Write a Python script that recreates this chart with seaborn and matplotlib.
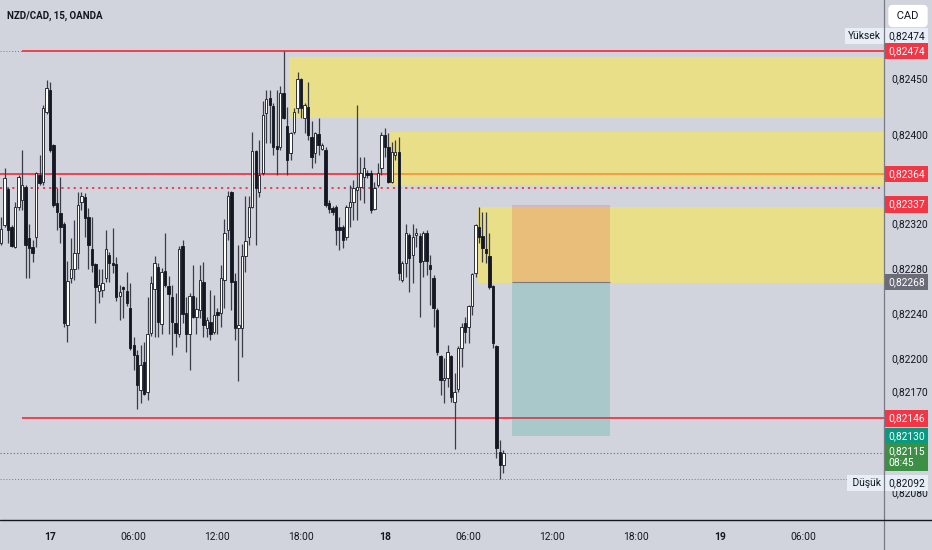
import numpy as np
import pandas as pd
import seaborn as sns
import matplotlib.pyplot as plt
from matplotlib.lines import Line2D
from matplotlib.patches import Rectangle

# NZD/CAD 15 min candles (16th 20:30 -> 18th 08:30)
opens = [
    0.82303, 0.82319, 0.82351, 0.82317, 0.82299, 0.82335, 0.82341, 0.82353, 0.82307, 0.82299,
    0.82308, 0.82363, 0.82357, 0.82420, 0.82439, 0.82390, 0.82338, 0.82329, 0.82320, 0.82229,
    0.82271, 0.82279, 0.82294, 0.82339, 0.82344, 0.82326, 0.82297, 0.82284, 0.82260, 0.82261,
    0.82271, 0.82292, 0.82285, 0.82284, 0.82255, 0.82263, 0.82260, 0.82245, 0.82212, 0.82203,
    0.82171, 0.82196, 0.82170, 0.82222, 0.82262, 0.82281, 0.82230, 0.82278, 0.82264, 0.82254,
    0.82231, 0.82221, 0.82300, 0.82240, 0.82221, 0.82255, 0.82237, 0.82243, 0.82268, 0.82227,
    0.82232, 0.82223, 0.82241, 0.82240, 0.82270, 0.82314, 0.82348, 0.82269, 0.82227, 0.82227,
    0.82291, 0.82308, 0.82335, 0.82385, 0.82348, 0.82365, 0.82419, 0.82432, 0.82425, 0.82389,
    0.82388, 0.82437, 0.82407, 0.82383, 0.82402, 0.82423, 0.82449, 0.82414, 0.82424, 0.82397,
    0.82383, 0.82400, 0.82387, 0.82386, 0.82338, 0.82334, 0.82335, 0.82317, 0.82317, 0.82308,
    0.82335, 0.82339, 0.82350, 0.82353, 0.82362, 0.82365, 0.82365, 0.82333, 0.82354, 0.82370,
    0.82399, 0.82388, 0.82357, 0.82381, 0.82384, 0.82270, 0.82285, 0.82310, 0.82292, 0.82310,
    0.82309, 0.82287, 0.82312, 0.82283, 0.82271, 0.82243, 0.82202, 0.82180, 0.82182, 0.82202,
    0.82161, 0.82172, 0.82209, 0.82231, 0.82228, 0.82246, 0.82276, 0.82317, 0.82309, 0.82297,
    0.82291, 0.82264, 0.82211, 0.82116, 0.82104,
]
highs = [
    0.82326, 0.82370, 0.82353, 0.82319, 0.82339, 0.82363, 0.82386, 0.82354, 0.82320, 0.82305,
    0.82366, 0.82381, 0.82426, 0.82448, 0.82446, 0.82391, 0.82352, 0.82362, 0.82321, 0.82287,
    0.82307, 0.82323, 0.82348, 0.82348, 0.82347, 0.82334, 0.82326, 0.82285, 0.82279, 0.82279,
    0.82314, 0.82295, 0.82316, 0.82290, 0.82265, 0.82264, 0.82277, 0.82267, 0.82219, 0.82207,
    0.82212, 0.82214, 0.82254, 0.82273, 0.82291, 0.82285, 0.82280, 0.82312, 0.82273, 0.82265,
    0.82258, 0.82300, 0.82305, 0.82254, 0.82258, 0.82283, 0.82254, 0.82283, 0.82286, 0.82237,
    0.82261, 0.82256, 0.82245, 0.82283, 0.82324, 0.82349, 0.82349, 0.82276, 0.82301, 0.82302,
    0.82345, 0.82345, 0.82402, 0.82386, 0.82395, 0.82429, 0.82439, 0.82439, 0.82428, 0.82439,
    0.82443, 0.82474, 0.82424, 0.82402, 0.82423, 0.82455, 0.82450, 0.82428, 0.82446, 0.82412,
    0.82402, 0.82414, 0.82392, 0.82388, 0.82341, 0.82336, 0.82337, 0.82326, 0.82319, 0.82337,
    0.82354, 0.82359, 0.82426, 0.82379, 0.82379, 0.82368, 0.82368, 0.82357, 0.82374, 0.82402,
    0.82405, 0.82401, 0.82393, 0.82395, 0.82397, 0.82287, 0.82320, 0.82312, 0.82320, 0.82316,
    0.82312, 0.82313, 0.82314, 0.82292, 0.82274, 0.82245, 0.82203, 0.82200, 0.82212, 0.82203,
    0.82187, 0.82211, 0.82231, 0.82237, 0.82247, 0.82276, 0.82320, 0.82335, 0.82330, 0.82330,
    0.82312, 0.82265, 0.82212, 0.82127, 0.82118,
]
lows = [
    0.82301, 0.82317, 0.82303, 0.82299, 0.82298, 0.82332, 0.82332, 0.82271, 0.82271, 0.82286,
    0.82299, 0.82354, 0.82354, 0.82418, 0.82384, 0.82335, 0.82314, 0.82303, 0.82228, 0.82214,
    0.82267, 0.82270, 0.82279, 0.82332, 0.82308, 0.82279, 0.82277, 0.82231, 0.82249, 0.82254,
    0.82268, 0.82268, 0.82276, 0.82251, 0.82234, 0.82236, 0.82246, 0.82207, 0.82189, 0.82154,
    0.82160, 0.82167, 0.82162, 0.82220, 0.82219, 0.82219, 0.82221, 0.82263, 0.82221, 0.82203,
    0.82210, 0.82219, 0.82231, 0.82205, 0.82189, 0.82236, 0.82221, 0.82236, 0.82219, 0.82219,
    0.82216, 0.82221, 0.82221, 0.82228, 0.82245, 0.82305, 0.82243, 0.82216, 0.82179, 0.82201,
    0.82277, 0.82301, 0.82334, 0.82301, 0.82344, 0.82363, 0.82392, 0.82392, 0.82381, 0.82363,
    0.82386, 0.82413, 0.82363, 0.82377, 0.82400, 0.82419, 0.82414, 0.82401, 0.82395, 0.82370,
    0.82374, 0.82381, 0.82386, 0.82335, 0.82329, 0.82328, 0.82301, 0.82296, 0.82298, 0.82305,
    0.82317, 0.82323, 0.82323, 0.82341, 0.82338, 0.82361, 0.82329, 0.82332, 0.82353, 0.82363,
    0.82379, 0.82356, 0.82356, 0.82377, 0.82270, 0.82268, 0.82272, 0.82259, 0.82267, 0.82299,
    0.82237, 0.82272, 0.82274, 0.82247, 0.82228, 0.82203, 0.82167, 0.82160, 0.82174, 0.82161,
    0.82119, 0.82170, 0.82192, 0.82213, 0.82213, 0.82238, 0.82272, 0.82303, 0.82286, 0.82285,
    0.82262, 0.82209, 0.82111, 0.82092, 0.82097,
]
closes = [
    0.82315, 0.82361, 0.82314, 0.82300, 0.82335, 0.82362, 0.82354, 0.82301, 0.82298, 0.82294,
    0.82365, 0.82356, 0.82423, 0.82441, 0.82386, 0.82337, 0.82330, 0.82317, 0.82231, 0.82269,
    0.82279, 0.82294, 0.82337, 0.82345, 0.82325, 0.82301, 0.82283, 0.82263, 0.82265, 0.82267,
    0.82297, 0.82285, 0.82283, 0.82254, 0.82259, 0.82262, 0.82249, 0.82209, 0.82203, 0.82176,
    0.82194, 0.82168, 0.82221, 0.82267, 0.82285, 0.82232, 0.82277, 0.82265, 0.82257, 0.82232,
    0.82222, 0.82297, 0.82239, 0.82221, 0.82255, 0.82237, 0.82244, 0.82270, 0.82229, 0.82234,
    0.82221, 0.82238, 0.82238, 0.82271, 0.82312, 0.82345, 0.82268, 0.82227, 0.82229, 0.82291,
    0.82304, 0.82335, 0.82385, 0.82352, 0.82363, 0.82417, 0.82431, 0.82426, 0.82388, 0.82387,
    0.82437, 0.82414, 0.82377, 0.82401, 0.82420, 0.82449, 0.82423, 0.82426, 0.82399, 0.82379,
    0.82401, 0.82390, 0.82390, 0.82337, 0.82333, 0.82330, 0.82314, 0.82314, 0.82305, 0.82335,
    0.82339, 0.82352, 0.82353, 0.82365, 0.82370, 0.82363, 0.82332, 0.82352, 0.82365, 0.82399,
    0.82388, 0.82357, 0.82384, 0.82384, 0.82276, 0.82285, 0.82312, 0.82289, 0.82308, 0.82312,
    0.82286, 0.82312, 0.82287, 0.82279, 0.82245, 0.82205, 0.82180, 0.82182, 0.82205, 0.82165,
    0.82170, 0.82209, 0.82228, 0.82223, 0.82246, 0.82275, 0.82319, 0.82308, 0.82298, 0.82294,
    0.82263, 0.82213, 0.82120, 0.82104, 0.82115,
]

first_bar = "2023-05-16 20:30"
day_zero = pd.Timestamp("2023-05-17 00:00")

# drawn levels
red_levels = [0.82474, 0.82364, 0.82146]
red_level_from = [-2.0, None, -2.0]     # hours after the 17th 00:00
dotted_red_level = 0.82352
high_price, low_price, last_price = 0.82474, 0.82092, 0.82115

# supply zones: (start hour, top, bottom), all run to the right edge
zone_start = [17.1, 24.3, 30.7]
zone_top = [0.82469, 0.82402, 0.82335]
zone_bottom = [0.82414, 0.82354, 0.82267]

# short position tool
pos_from, pos_to = 33.1, 40.15
pos_stop, pos_entry, pos_target = 0.82337, 0.82268, 0.82130

# price scale
tick_prices = [0.82450, 0.82400, 0.82320, 0.82280, 0.82240, 0.82200, 0.82170, 0.82080]
time_ticks = [0, 6, 12, 18, 24, 30, 36, 42, 48, 54]
time_labels = ["17", "06:00", "12:00", "18:00", "18", "06:00", "12:00", "18:00", "19", "06:00"]
countdown = "08:45"

BG = "#D1D4DC"
RED = "#F23645"
INK = "#131722"
FS = 7.4

sns.set_style("white")
plt.rcParams["font.family"] = ["Roboto", "DejaVu Sans"]

df = pd.DataFrame({"open": opens, "high": highs, "low": lows, "close": closes})
df["time"] = pd.date_range(first_bar, periods=len(df), freq="15min")
df["t"] = (df["time"] - day_zero) / pd.Timedelta(hours=1)
df["high"] = df[["open", "high", "close"]].max(axis=1)
df["low"] = df[["open", "low", "close"]].min(axis=1)

W, H = 932, 550
fig = plt.figure(figsize=(W / 100, H / 100), dpi=100, facecolor=BG)
ax = fig.add_axes([0, 30 / H, 884 / W, 520 / H])
ax.set_facecolor(BG)
x0, x1 = -3.584, 59.78
ax.set_xlim(x0, x1)
ax.set_ylim(0.820553, 0.825196)

# horizontal levels
ax.axhline(high_price, color="#787B86", lw=0.7, ls=(0, (1, 2)), zorder=1)
ax.axhline(low_price, color="#787B86", lw=0.7, ls=(0, (1, 2)), zorder=1)
ax.axhline(last_price, color="#089981", lw=0.8, ls=(0, (1, 2)), zorder=1)
for p, start in zip(red_levels, red_level_from):
    ax.hlines(p, x0 if start is None else start, x1, color=RED, lw=1.3, zorder=1)
ax.axhline(dotted_red_level, color=RED, lw=1.3, ls=(0, (1.2, 2.2)), zorder=1)

# yellow zones (translucent, over the lines)
for s, top, bot in zip(zone_start, zone_top, zone_bottom):
    ax.add_patch(Rectangle((s, bot), x1 - s, top - bot, fc="#FFEB3B", alpha=0.52,
                           ec="none", zorder=2))

# position tool
ax.add_patch(Rectangle((pos_from, pos_entry), pos_to - pos_from, pos_stop - pos_entry,
                       fc=RED, alpha=0.2, ec="none", zorder=2))
ax.add_patch(Rectangle((pos_from, pos_target), pos_to - pos_from, pos_entry - pos_target,
                       fc="#089981", alpha=0.2, ec="none", zorder=2))
ax.hlines(pos_entry, pos_from, pos_to, color="#787B86", lw=0.8, zorder=2)

# candles
up = df["close"] >= df["open"]
body_lo = df[["open", "close"]].min(axis=1)
body_h = (df["close"] - df["open"]).abs().clip(lower=0.000012)
ax.vlines(df["t"], df["low"], df["high"], color="#3A3D47", lw=0.9, zorder=3)
ax.bar(df["t"][up], body_h[up], bottom=body_lo[up], width=0.17, color="white",
       edgecolor=INK, lw=0.6, zorder=4)
ax.bar(df["t"][~up], body_h[~up], bottom=body_lo[~up], width=0.17, color=INK,
       edgecolor=INK, lw=0.6, zorder=4)

# axes styling
for side in ["top", "left", "right", "bottom"]:
    ax.spines[side].set_visible(False)
ax.set_xticks(time_ticks)
ax.set_xticklabels(time_labels)
for lab in ax.get_xticklabels():
    lab.set_fontsize(FS)
    lab.set_color(INK)
    if ":" not in lab.get_text():
        lab.set_fontweight("bold")
ax.tick_params(axis="x", length=0, pad=9)
ax.yaxis.tick_right()
ax.set_yticks(tick_prices)
ax.set_yticklabels([f"{v:.5f}".replace(".", ",") for v in tick_prices])
ax.tick_params(axis="y", length=0, pad=5, labelsize=FS, labelcolor=INK)

ytr = ax.get_yaxis_transform()


def tag(price, text, face, color="white", dy=0, va="center"):
    ax.annotate(text, xy=(1, price), xycoords=ytr, xytext=(3, dy), textcoords="offset points",
                ha="left", va=va, fontsize=FS, color=color, zorder=6, annotation_clip=False,
                bbox=dict(boxstyle="square,pad=0.3", fc=face, ec="none"))


def side_note(price, text, dy):
    ax.annotate(text, xy=(1, price), xycoords=ytr, xytext=(-2, dy), textcoords="offset points",
                ha="right", va="center", fontsize=FS, color=INK, annotation_clip=False,
                bbox=dict(boxstyle="square,pad=0.3", fc="#E8EEF6", ec="none"), zorder=6)


fmt = lambda v: f"{v:.5f}".replace(".", ",")
tag(high_price, fmt(high_price), "#E8EEF6", color=INK, dy=11)
side_note(high_price, "Yüksek", 11)
tag(red_levels[0], fmt(red_levels[0]), RED)
tag(red_levels[1], fmt(red_levels[1]), RED)
tag(pos_stop, fmt(pos_stop), RED)
tag(pos_entry, fmt(pos_entry), "#6A6D78")
tag(red_levels[2], fmt(red_levels[2]), RED)
tag(pos_target, fmt(pos_target), "#089981")
tag(last_price, fmt(last_price) + "\n" + countdown, "#3D8F45", dy=5, va="top")
tag(low_price, fmt(low_price), "#E8EEF6", color=INK, dy=-3)
side_note(low_price, " Düşük", -3)

# frame lines and header
fig.add_artist(Line2D([884 / W, 884 / W], [0, 1], color="#787B86", lw=0.9))
fig.add_artist(Line2D([0, 1], [30 / H, 30 / H], color=INK, lw=1.0))
fig.text(7 / W, 1 - 16 / H, "NZD/CAD, 15, OANDA", fontsize=7, fontweight="bold",
         color=INK, ha="left", va="center")
fig.text(908 / W, 1 - 16 / H, " CAD ", fontsize=8, color=INK, ha="center", va="center",
         bbox=dict(boxstyle="round,pad=0.55,rounding_size=0.4", fc="white", ec="none"))

fig.savefig("out.png", dpi=100, facecolor=BG)
